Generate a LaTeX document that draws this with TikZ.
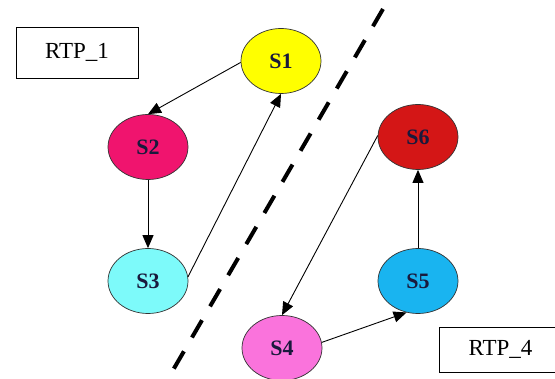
\documentclass[tikz,border=0pt]{standalone}
\usepackage{fontspec}
\setmainfont{Liberation Serif}
\usetikzlibrary{shapes.geometric,arrows.meta}
\definecolor{cS1}{RGB}{255,255,0}
\definecolor{cS2}{RGB}{240,20,110}
\definecolor{cS3}{RGB}{125,250,250}
\definecolor{cS4}{RGB}{250,115,220}
\definecolor{cS5}{RGB}{25,180,240}
\definecolor{cS6}{RGB}{212,22,22}
\definecolor{txt}{RGB}{25,25,60}
\tikzset{
  state/.style={ellipse, draw=black!80, line width=0.7pt, minimum width=80pt, minimum height=65pt, inner sep=0pt, font=\fontsize{22}{22}\selectfont\bfseries, text=txt},
  label box/.style={draw=black, line width=0.9pt, font=\fontsize{23}{23}\selectfont, text=black},
  link/.style={line width=0.9pt, -{Triangle[length=13pt,width=11pt]}},
  divider/.style={line width=4pt, dash pattern=on 20pt off 16pt}
}
\begin{document}
\begin{tikzpicture}[x=1pt,y=-1pt]
\useasboundingbox (0,0) rectangle (555,379);
\clip (0,0) rectangle (555,379);
\fill[white] (0,0) rectangle (555,379);
% divider
\coordinate (d1) at (383,9);
\coordinate (d2) at (162,389);
\draw[divider] (d1) -- (d2);
% labels
\node[label box, minimum width=122pt, minimum height=51pt] (r1) at (77,52.5) {RTP\_1};
\node[label box, minimum width=130pt, minimum height=45pt, anchor=west] (r4) at (439,349.5) {\hspace*{-8pt}RTP\_4};
% states
\node[state, fill=cS1] (S1) at (281,61) {S1};
\node[state, fill=cS2] (S2) at (148,147) {S2};
\node[state, fill=cS3] (S3) at (148,281) {S3};
\node[state, fill=cS4] (S4) at (282,348) {S4};
\node[state, fill=cS5] (S5) at (418,281) {S5};
\node[state, fill=cS6] (S6) at (418,137) {S6};
% edges
\draw[link] (S1.182) -- (S2.north);
\draw[link] (S2.south) -- (S3.north);
\draw[link] (S3.6) -- (S1.south);
\draw[link] (S6.178) -- (S4.north);
\draw[link] (S4.8) -- (S5.250);
\draw[link] (S5.north) -- (S6.south);
\end{tikzpicture}
\end{document}
